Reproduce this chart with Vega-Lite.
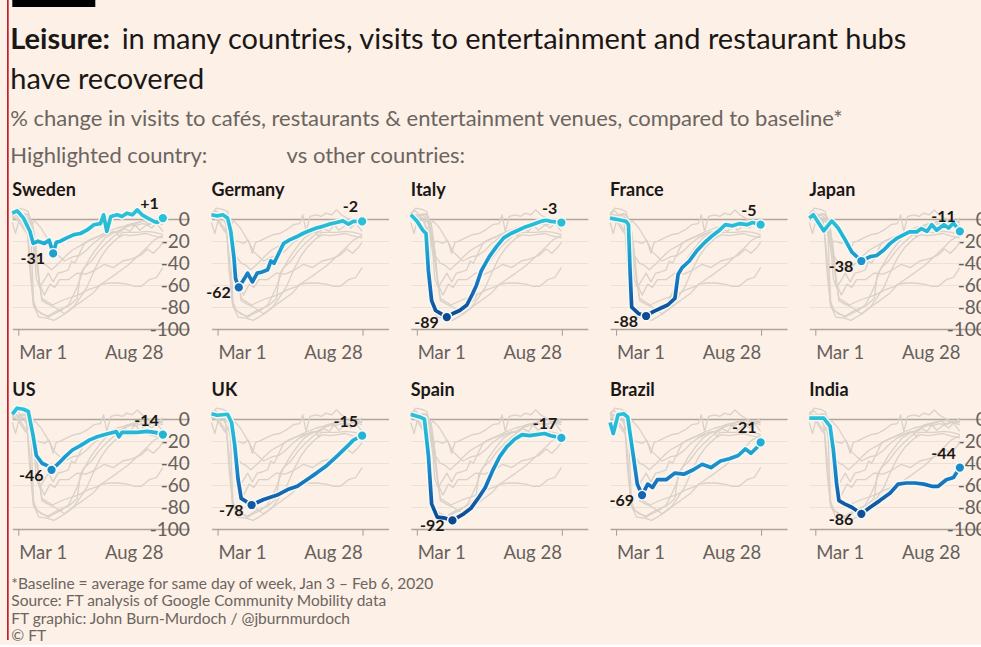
{
"$schema": "https://vega.github.io/schema/vega-lite/v6.json",
"background": "#fdf0e6",
"padding": {"left": 7, "top": 0, "right": 0, "bottom": 0},
"data": {"values": [
{"c":"Sweden","d":"2020-02-22","v":5.5},{"c":"Sweden","d":"2020-02-28","v":7.6},{"c":"Sweden","d":"2020-03-07","v":1},{"c":"Sweden","d":"2020-03-15","v":-11},{"c":"Sweden","d":"2020-03-19","v":-22},{"c":"Sweden","d":"2020-03-25","v":-20},{"c":"Sweden","d":"2020-04-02","v":-22},{"c":"Sweden","d":"2020-04-08","v":-19},{"c":"Sweden","d":"2020-04-13","v":-31},{"c":"Sweden","d":"2020-04-17","v":-21},{"c":"Sweden","d":"2020-04-22","v":-20},{"c":"Sweden","d":"2020-04-30","v":-17},{"c":"Sweden","d":"2020-05-09","v":-14},{"c":"Sweden","d":"2020-05-17","v":-13},{"c":"Sweden","d":"2020-05-25","v":-10},{"c":"Sweden","d":"2020-06-03","v":-5},{"c":"Sweden","d":"2020-06-11","v":-4},{"c":"Sweden","d":"2020-06-15","v":4},{"c":"Sweden","d":"2020-06-19","v":-11},{"c":"Sweden","d":"2020-06-24","v":2.5},{"c":"Sweden","d":"2020-07-02","v":4},{"c":"Sweden","d":"2020-07-08","v":2.5},{"c":"Sweden","d":"2020-07-14","v":5.5},{"c":"Sweden","d":"2020-07-21","v":4},{"c":"Sweden","d":"2020-07-27","v":8.5},{"c":"Sweden","d":"2020-08-02","v":4},{"c":"Sweden","d":"2020-08-09","v":1},{"c":"Sweden","d":"2020-08-17","v":-2},{"c":"Sweden","d":"2020-08-21","v":-3},{"c":"Sweden","d":"2020-08-28","v":1},
{"c":"Germany","d":"2020-02-22","v":4},{"c":"Germany","d":"2020-02-29","v":3},{"c":"Germany","d":"2020-03-07","v":4},{"c":"Germany","d":"2020-03-13","v":1},{"c":"Germany","d":"2020-03-17","v":-11},{"c":"Germany","d":"2020-03-21","v":-35},{"c":"Germany","d":"2020-03-23","v":-54},{"c":"Germany","d":"2020-03-27","v":-62},{"c":"Germany","d":"2020-04-03","v":-54},{"c":"Germany","d":"2020-04-07","v":-49},{"c":"Germany","d":"2020-04-13","v":-57},{"c":"Germany","d":"2020-04-19","v":-49},{"c":"Germany","d":"2020-04-25","v":-48},{"c":"Germany","d":"2020-05-02","v":-46},{"c":"Germany","d":"2020-05-06","v":-38},{"c":"Germany","d":"2020-05-10","v":-40},{"c":"Germany","d":"2020-05-16","v":-31},{"c":"Germany","d":"2020-05-22","v":-22},{"c":"Germany","d":"2020-05-29","v":-19},{"c":"Germany","d":"2020-06-07","v":-16},{"c":"Germany","d":"2020-06-15","v":-13},{"c":"Germany","d":"2020-06-23","v":-10.5},{"c":"Germany","d":"2020-07-02","v":-8},{"c":"Germany","d":"2020-07-10","v":-6.5},{"c":"Germany","d":"2020-07-18","v":-4.5},{"c":"Germany","d":"2020-07-27","v":-3},{"c":"Germany","d":"2020-08-04","v":-1.5},{"c":"Germany","d":"2020-08-11","v":-4.5},{"c":"Germany","d":"2020-08-17","v":-2},{"c":"Germany","d":"2020-08-28","v":-2},
{"c":"Italy","d":"2020-02-22","v":4},{"c":"Italy","d":"2020-03-01","v":-2},{"c":"Italy","d":"2020-03-08","v":-10},{"c":"Italy","d":"2020-03-12","v":-13},{"c":"Italy","d":"2020-03-15","v":-47},{"c":"Italy","d":"2020-03-19","v":-74},{"c":"Italy","d":"2020-03-24","v":-83},{"c":"Italy","d":"2020-03-31","v":-86},{"c":"Italy","d":"2020-04-07","v":-89},{"c":"Italy","d":"2020-04-14","v":-86},{"c":"Italy","d":"2020-04-23","v":-83},{"c":"Italy","d":"2020-05-02","v":-78},{"c":"Italy","d":"2020-05-09","v":-68},{"c":"Italy","d":"2020-05-14","v":-60},{"c":"Italy","d":"2020-05-20","v":-47},{"c":"Italy","d":"2020-05-30","v":-34},{"c":"Italy","d":"2020-06-08","v":-25},{"c":"Italy","d":"2020-06-17","v":-17},{"c":"Italy","d":"2020-06-26","v":-13},{"c":"Italy","d":"2020-07-05","v":-10},{"c":"Italy","d":"2020-07-14","v":-7},{"c":"Italy","d":"2020-07-24","v":-4.5},{"c":"Italy","d":"2020-08-02","v":-2},{"c":"Italy","d":"2020-08-09","v":-1},{"c":"Italy","d":"2020-08-15","v":-2},{"c":"Italy","d":"2020-08-28","v":-3},
{"c":"France","d":"2020-02-22","v":1},{"c":"France","d":"2020-03-07","v":-1},{"c":"France","d":"2020-03-13","v":-2},{"c":"France","d":"2020-03-16","v":-5},{"c":"France","d":"2020-03-18","v":-47},{"c":"France","d":"2020-03-20","v":-80},{"c":"France","d":"2020-03-29","v":-86},{"c":"France","d":"2020-04-07","v":-88},{"c":"France","d":"2020-04-16","v":-84},{"c":"France","d":"2020-04-25","v":-81},{"c":"France","d":"2020-05-04","v":-78},{"c":"France","d":"2020-05-13","v":-72},{"c":"France","d":"2020-05-17","v":-50},{"c":"France","d":"2020-05-22","v":-44},{"c":"France","d":"2020-05-31","v":-38},{"c":"France","d":"2020-06-09","v":-29},{"c":"France","d":"2020-06-18","v":-22},{"c":"France","d":"2020-06-27","v":-16},{"c":"France","d":"2020-07-06","v":-11},{"c":"France","d":"2020-07-15","v":-5},{"c":"France","d":"2020-07-24","v":-6},{"c":"France","d":"2020-08-02","v":-4},{"c":"France","d":"2020-08-11","v":-5},{"c":"France","d":"2020-08-18","v":-3},{"c":"France","d":"2020-08-28","v":-5},
{"c":"Japan","d":"2020-02-22","v":1},{"c":"Japan","d":"2020-02-27","v":4},{"c":"Japan","d":"2020-03-11","v":-10.6},{"c":"Japan","d":"2020-03-21","v":-1.5},{"c":"Japan","d":"2020-03-29","v":-8},{"c":"Japan","d":"2020-04-07","v":-19},{"c":"Japan","d":"2020-04-15","v":-29.7},{"c":"Japan","d":"2020-04-27","v":-38},{"c":"Japan","d":"2020-05-08","v":-34},{"c":"Japan","d":"2020-05-16","v":-33},{"c":"Japan","d":"2020-05-25","v":-28},{"c":"Japan","d":"2020-06-02","v":-22},{"c":"Japan","d":"2020-06-10","v":-17.5},{"c":"Japan","d":"2020-06-18","v":-14.5},{"c":"Japan","d":"2020-06-26","v":-11.5},{"c":"Japan","d":"2020-07-05","v":-11.5},{"c":"Japan","d":"2020-07-11","v":-8.5},{"c":"Japan","d":"2020-07-18","v":-11},{"c":"Japan","d":"2020-07-24","v":-5},{"c":"Japan","d":"2020-07-30","v":-10},{"c":"Japan","d":"2020-08-08","v":-5},{"c":"Japan","d":"2020-08-14","v":-8},{"c":"Japan","d":"2020-08-20","v":-3.5},{"c":"Japan","d":"2020-08-28","v":-11},
{"c":"US","d":"2020-02-22","v":4.5},{"c":"US","d":"2020-02-28","v":10},{"c":"US","d":"2020-03-07","v":9},{"c":"US","d":"2020-03-13","v":7},{"c":"US","d":"2020-03-19","v":-15},{"c":"US","d":"2020-03-23","v":-33},{"c":"US","d":"2020-03-30","v":-40},{"c":"US","d":"2020-04-05","v":-42},{"c":"US","d":"2020-04-11","v":-46},{"c":"US","d":"2020-04-20","v":-40},{"c":"US","d":"2020-04-28","v":-34},{"c":"US","d":"2020-05-07","v":-28},{"c":"US","d":"2020-05-17","v":-24},{"c":"US","d":"2020-05-28","v":-19},{"c":"US","d":"2020-06-07","v":-16},{"c":"US","d":"2020-06-19","v":-13.4},{"c":"US","d":"2020-07-01","v":-11.3},{"c":"US","d":"2020-07-04","v":-16},{"c":"US","d":"2020-07-08","v":-12},{"c":"US","d":"2020-07-27","v":-12},{"c":"US","d":"2020-08-08","v":-11},{"c":"US","d":"2020-08-18","v":-12},{"c":"US","d":"2020-08-28","v":-14},
{"c":"UK","d":"2020-02-22","v":5},{"c":"UK","d":"2020-02-29","v":3.6},{"c":"UK","d":"2020-03-13","v":4.5},{"c":"UK","d":"2020-03-18","v":-3},{"c":"UK","d":"2020-03-22","v":-24},{"c":"UK","d":"2020-03-26","v":-54},{"c":"UK","d":"2020-03-30","v":-72},{"c":"UK","d":"2020-04-12","v":-78},{"c":"UK","d":"2020-04-27","v":-73},{"c":"UK","d":"2020-05-14","v":-69},{"c":"UK","d":"2020-05-27","v":-64},{"c":"UK","d":"2020-06-08","v":-61},{"c":"UK","d":"2020-06-20","v":-55},{"c":"UK","d":"2020-07-02","v":-49},{"c":"UK","d":"2020-07-15","v":-42},{"c":"UK","d":"2020-07-27","v":-34},{"c":"UK","d":"2020-08-09","v":-25},{"c":"UK","d":"2020-08-17","v":-19},{"c":"UK","d":"2020-08-28","v":-15},
{"c":"Spain","d":"2020-02-22","v":4.4},{"c":"Spain","d":"2020-03-06","v":1.5},{"c":"Spain","d":"2020-03-10","v":0},{"c":"Spain","d":"2020-03-15","v":-33},{"c":"Spain","d":"2020-03-19","v":-77},{"c":"Spain","d":"2020-03-26","v":-89},{"c":"Spain","d":"2020-04-05","v":-90},{"c":"Spain","d":"2020-04-14","v":-92},{"c":"Spain","d":"2020-04-28","v":-86},{"c":"Spain","d":"2020-05-07","v":-81},{"c":"Spain","d":"2020-05-16","v":-72},{"c":"Spain","d":"2020-05-25","v":-62},{"c":"Spain","d":"2020-06-03","v":-47},{"c":"Spain","d":"2020-06-12","v":-34},{"c":"Spain","d":"2020-06-21","v":-25},{"c":"Spain","d":"2020-07-01","v":-18},{"c":"Spain","d":"2020-07-10","v":-14},{"c":"Spain","d":"2020-07-19","v":-15},{"c":"Spain","d":"2020-07-28","v":-14},{"c":"Spain","d":"2020-08-07","v":-13},{"c":"Spain","d":"2020-08-15","v":-15},{"c":"Spain","d":"2020-08-28","v":-17},
{"c":"Brazil","d":"2020-02-22","v":-3},{"c":"Brazil","d":"2020-02-26","v":-13},{"c":"Brazil","d":"2020-03-03","v":4},{"c":"Brazil","d":"2020-03-10","v":5},{"c":"Brazil","d":"2020-03-15","v":2},{"c":"Brazil","d":"2020-03-22","v":-33},{"c":"Brazil","d":"2020-03-27","v":-59},{"c":"Brazil","d":"2020-04-02","v":-69},{"c":"Brazil","d":"2020-04-09","v":-59},{"c":"Brazil","d":"2020-04-15","v":-62},{"c":"Brazil","d":"2020-04-21","v":-55},{"c":"Brazil","d":"2020-05-02","v":-55},{"c":"Brazil","d":"2020-05-13","v":-49},{"c":"Brazil","d":"2020-05-24","v":-50},{"c":"Brazil","d":"2020-06-05","v":-46},{"c":"Brazil","d":"2020-06-16","v":-41},{"c":"Brazil","d":"2020-06-27","v":-44},{"c":"Brazil","d":"2020-07-09","v":-38},{"c":"Brazil","d":"2020-07-20","v":-36},{"c":"Brazil","d":"2020-07-31","v":-33},{"c":"Brazil","d":"2020-08-09","v":-27},{"c":"Brazil","d":"2020-08-16","v":-31},{"c":"Brazil","d":"2020-08-23","v":-26},{"c":"Brazil","d":"2020-08-28","v":-21},
{"c":"India","d":"2020-02-22","v":1},{"c":"India","d":"2020-03-11","v":1},{"c":"India","d":"2020-03-19","v":-6.6},{"c":"India","d":"2020-03-23","v":-27.7},{"c":"India","d":"2020-03-27","v":-58},{"c":"India","d":"2020-03-30","v":-74},{"c":"India","d":"2020-04-06","v":-77},{"c":"India","d":"2020-04-15","v":-80},{"c":"India","d":"2020-04-27","v":-86},{"c":"India","d":"2020-05-08","v":-80},{"c":"India","d":"2020-05-20","v":-74},{"c":"India","d":"2020-06-02","v":-67},{"c":"India","d":"2020-06-12","v":-59},{"c":"India","d":"2020-06-22","v":-58},{"c":"India","d":"2020-07-03","v":-58},{"c":"India","d":"2020-07-14","v":-59},{"c":"India","d":"2020-07-24","v":-61},{"c":"India","d":"2020-08-01","v":-61},{"c":"India","d":"2020-08-11","v":-55},{"c":"India","d":"2020-08-20","v":-53},{"c":"India","d":"2020-08-28","v":-44}
]},
"spacing": -0.7,
"hconcat": [
{"width": 1.7, "height": 640, "data": {"values": []}, "mark": "point", "view": {"fill": "#c41e2a", "stroke": null}},
{"spacing": 19,
 "vconcat": [
 {"width": 83, "height": 7, "data": {"values": []}, "mark": "point", "view": {"fill": "#000000", "stroke": null}},
 {
 "title": {"text": "Leisure:", "subtitle": ["\u200b\u00a0\u00a0\u00a0\u00a0\u00a0\u00a0\u00a0\u00a0\u00a0\u00a0\u00a0\u00a0\u00a0\u00a0\u00a0in many countries, visits to entertainment and restaurant hubs", "have recovered"], "anchor": "start", "frame": "group", "font": "Lato", "fontSize": 29, "fontWeight": "bold", "color": "#1a1817", "subtitleFont": "Lato", "subtitleFontSize": 29, "subtitleFontWeight": "normal", "subtitleColor": "#1a1817", "subtitleLineHeight": 40, "subtitlePadding": -29, "offset": 13, "dx": -2},
 "vconcat": [
 {
 "title": {"text": ["% change in visits to cafés, restaurants & entertainment venues, compared to baseline*", "Highlighted country:\u2003\u2003\u2003\u2002\u2002\u2009 vs other countries:"], "anchor": "start", "frame": "group", "font": "Lato", "fontSize": 22, "fontWeight": "normal", "color": "#6b6561", "lineHeight": 37, "offset": 14, "dx": -2},
 "spacing": 20,
 "vconcat": [
 {"hconcat": [
 {"title": "Sweden", "width": 177, "height": 134.2,
  "encoding": {"x": {"field":"d","type":"temporal","title":null,"scale":{"type":"utc","domain":[{"year":2020,"month":2,"date":22,"utc":true},{"year":2020,"month":9,"date":30,"utc":true}]},"axis":{"values":[{"year":2020,"month":3,"date":1,"utc":true},{"year":2020,"month":8,"date":28,"utc":true}],"format":"%b %-d"}},
   "y": {"field":"v","type":"quantitative","title":null,"scale":{"domain":[-100,22],"nice":false,"zero":false},"axis":{"values":[0,-20,-40,-60,-80,-100],"orient":"right","labels":true,"gridColor":{"condition":{"test":"datum.value == 0 || datum.value == -100","value":"#aea59d"},"value":"#ebe1d7"},"gridWidth":{"condition":{"test":"datum.value == 0 || datum.value == -100","value":1.6},"value":1}}}},
  "layer": [
   {"mark": {"type":"line","stroke":"#dad1c9","strokeWidth":1.3}, "encoding": {"detail": {"field":"c"}}},
   {"transform": [{"filter":"datum.c == 'Sweden'"}], "layer": [
    {"mark": {"type":"line","stroke":"#f3fafa","strokeWidth":6.5}},
    {"mark": {"type":"line","strokeWidth":3.7,"stroke":{"gradient":"linear","x1":0,"y1":0,"x2":0,"y2":1,"stops":[{"offset":0,"color":"#2cc0d6"},{"offset":0.215,"color":"#2cc0d6"},{"offset":0.722,"color":"#22aed2"},{"offset":1,"color":"#1f9fce"}]}}},
    {"transform": [{"window":[{"op":"row_number","as":"r"}],"sort":[{"field":"v","order":"ascending"}]},{"filter":"datum.r == 1"}], "layer": [
     {"mark": {"type":"circle","size":95,"opacity":1,"color":"#1f9fce","stroke":"#f3fafa","strokeWidth":1.5}},
     {"mark": {"type":"text","align":"right","baseline":"middle","dx":-8,"dy":6}, "encoding": {"text": {"field":"v","format":"d"}}}]},
    {"transform": [{"window":[{"op":"row_number","as":"r"}],"sort":[{"field":"d","order":"descending"}]},{"filter":"datum.r == 1"}], "layer": [
     {"mark": {"type":"circle","size":95,"opacity":1,"color":"#2cc0d6","stroke":"#f3fafa","strokeWidth":1.5}},
     {"mark": {"type":"text","align":"right","baseline":"alphabetic","dx":-4,"dy":-9}, "encoding": {"text": {"field":"v","format":"+d"}}}]}
   ]}
  ]},
 {"title": "Germany", "width": 177, "height": 134.2,
  "encoding": {"x": {"field":"d","type":"temporal","title":null,"scale":{"type":"utc","domain":[{"year":2020,"month":2,"date":22,"utc":true},{"year":2020,"month":9,"date":30,"utc":true}]},"axis":{"values":[{"year":2020,"month":3,"date":1,"utc":true},{"year":2020,"month":8,"date":28,"utc":true}],"format":"%b %-d"}},
   "y": {"field":"v","type":"quantitative","title":null,"scale":{"domain":[-100,22],"nice":false,"zero":false},"axis":{"values":[0,-20,-40,-60,-80,-100],"orient":"right","labels":false,"gridColor":{"condition":{"test":"datum.value == 0 || datum.value == -100","value":"#aea59d"},"value":"#ebe1d7"},"gridWidth":{"condition":{"test":"datum.value == 0 || datum.value == -100","value":1.6},"value":1}}}},
  "layer": [
   {"mark": {"type":"line","stroke":"#dad1c9","strokeWidth":1.3}, "encoding": {"detail": {"field":"c"}}},
   {"transform": [{"filter":"datum.c == 'Germany'"}], "layer": [
    {"mark": {"type":"line","stroke":"#f3fafa","strokeWidth":6.5}},
    {"mark": {"type":"line","strokeWidth":3.7,"stroke":{"gradient":"linear","x1":0,"y1":0,"x2":0,"y2":1,"stops":[{"offset":0,"color":"#2cc0d6"},{"offset":0.061,"color":"#2cc0d6"},{"offset":0.364,"color":"#22aed2"},{"offset":0.667,"color":"#1c92cb"},{"offset":0.97,"color":"#1870b8"},{"offset":1,"color":"#176db6"}]}}},
    {"transform": [{"window":[{"op":"row_number","as":"r"}],"sort":[{"field":"v","order":"ascending"}]},{"filter":"datum.r == 1"}], "layer": [
     {"mark": {"type":"circle","size":95,"opacity":1,"color":"#176db6","stroke":"#f3fafa","strokeWidth":1.5}},
     {"mark": {"type":"text","align":"right","baseline":"middle","dx":-8,"dy":6}, "encoding": {"text": {"field":"v","format":"d"}}}]},
    {"transform": [{"window":[{"op":"row_number","as":"r"}],"sort":[{"field":"d","order":"descending"}]},{"filter":"datum.r == 1"}], "layer": [
     {"mark": {"type":"circle","size":95,"opacity":1,"color":"#2bbed6","stroke":"#f3fafa","strokeWidth":1.5}},
     {"mark": {"type":"text","align":"right","baseline":"alphabetic","dx":-4,"dy":-9}, "encoding": {"text": {"field":"v","format":"+d"}}}]}
   ]}
  ]},
 {"title": "Italy", "width": 177, "height": 134.2,
  "encoding": {"x": {"field":"d","type":"temporal","title":null,"scale":{"type":"utc","domain":[{"year":2020,"month":2,"date":22,"utc":true},{"year":2020,"month":9,"date":30,"utc":true}]},"axis":{"values":[{"year":2020,"month":3,"date":1,"utc":true},{"year":2020,"month":8,"date":28,"utc":true}],"format":"%b %-d"}},
   "y": {"field":"v","type":"quantitative","title":null,"scale":{"domain":[-100,22],"nice":false,"zero":false},"axis":{"values":[0,-20,-40,-60,-80,-100],"orient":"right","labels":false,"gridColor":{"condition":{"test":"datum.value == 0 || datum.value == -100","value":"#aea59d"},"value":"#ebe1d7"},"gridWidth":{"condition":{"test":"datum.value == 0 || datum.value == -100","value":1.6},"value":1}}}},
  "layer": [
   {"mark": {"type":"line","stroke":"#dad1c9","strokeWidth":1.3}, "encoding": {"detail": {"field":"c"}}},
   {"transform": [{"filter":"datum.c == 'Italy'"}], "layer": [
    {"mark": {"type":"line","stroke":"#f3fafa","strokeWidth":6.5}},
    {"mark": {"type":"line","strokeWidth":3.7,"stroke":{"gradient":"linear","x1":0,"y1":0,"x2":0,"y2":1,"stops":[{"offset":0,"color":"#2cc0d6"},{"offset":0.043,"color":"#2cc0d6"},{"offset":0.258,"color":"#22aed2"},{"offset":0.473,"color":"#1c92cb"},{"offset":0.688,"color":"#1870b8"},{"offset":0.903,"color":"#12559f"},{"offset":1,"color":"#0e4b94"}]}}},
    {"transform": [{"window":[{"op":"row_number","as":"r"}],"sort":[{"field":"v","order":"ascending"}]},{"filter":"datum.r == 1"}], "layer": [
     {"mark": {"type":"circle","size":95,"opacity":1,"color":"#0e4b94","stroke":"#f3fafa","strokeWidth":1.5}},
     {"mark": {"type":"text","align":"right","baseline":"middle","dx":-8,"dy":6}, "encoding": {"text": {"field":"v","format":"d"}}}]},
    {"transform": [{"window":[{"op":"row_number","as":"r"}],"sort":[{"field":"d","order":"descending"}]},{"filter":"datum.r == 1"}], "layer": [
     {"mark": {"type":"circle","size":95,"opacity":1,"color":"#2abdd5","stroke":"#f3fafa","strokeWidth":1.5}},
     {"mark": {"type":"text","align":"right","baseline":"alphabetic","dx":-4,"dy":-9}, "encoding": {"text": {"field":"v","format":"+d"}}}]}
   ]}
  ]},
 {"title": "France", "width": 177, "height": 134.2,
  "encoding": {"x": {"field":"d","type":"temporal","title":null,"scale":{"type":"utc","domain":[{"year":2020,"month":2,"date":22,"utc":true},{"year":2020,"month":9,"date":30,"utc":true}]},"axis":{"values":[{"year":2020,"month":3,"date":1,"utc":true},{"year":2020,"month":8,"date":28,"utc":true}],"format":"%b %-d"}},
   "y": {"field":"v","type":"quantitative","title":null,"scale":{"domain":[-100,22],"nice":false,"zero":false},"axis":{"values":[0,-20,-40,-60,-80,-100],"orient":"right","labels":false,"gridColor":{"condition":{"test":"datum.value == 0 || datum.value == -100","value":"#aea59d"},"value":"#ebe1d7"},"gridWidth":{"condition":{"test":"datum.value == 0 || datum.value == -100","value":1.6},"value":1}}}},
  "layer": [
   {"mark": {"type":"line","stroke":"#dad1c9","strokeWidth":1.3}, "encoding": {"detail": {"field":"c"}}},
   {"transform": [{"filter":"datum.c == 'France'"}], "layer": [
    {"mark": {"type":"line","stroke":"#f3fafa","strokeWidth":6.5}},
    {"mark": {"type":"line","strokeWidth":3.7,"stroke":{"gradient":"linear","x1":0,"y1":0,"x2":0,"y2":1,"stops":[{"offset":0,"color":"#2cc0d6"},{"offset":0.011,"color":"#2cc0d6"},{"offset":0.236,"color":"#22aed2"},{"offset":0.461,"color":"#1c92cb"},{"offset":0.685,"color":"#1870b8"},{"offset":0.91,"color":"#12559f"},{"offset":1,"color":"#0f4c95"}]}}},
    {"transform": [{"window":[{"op":"row_number","as":"r"}],"sort":[{"field":"v","order":"ascending"}]},{"filter":"datum.r == 1"}], "layer": [
     {"mark": {"type":"circle","size":95,"opacity":1,"color":"#0f4c95","stroke":"#f3fafa","strokeWidth":1.5}},
     {"mark": {"type":"text","align":"right","baseline":"middle","dx":-8,"dy":6}, "encoding": {"text": {"field":"v","format":"d"}}}]},
    {"transform": [{"window":[{"op":"row_number","as":"r"}],"sort":[{"field":"d","order":"descending"}]},{"filter":"datum.r == 1"}], "layer": [
     {"mark": {"type":"circle","size":95,"opacity":1,"color":"#2abbd5","stroke":"#f3fafa","strokeWidth":1.5}},
     {"mark": {"type":"text","align":"right","baseline":"alphabetic","dx":-4,"dy":-9}, "encoding": {"text": {"field":"v","format":"+d"}}}]}
   ]}
  ]},
 {"title": "Japan", "width": 177, "height": 134.2,
  "encoding": {"x": {"field":"d","type":"temporal","title":null,"scale":{"type":"utc","domain":[{"year":2020,"month":2,"date":22,"utc":true},{"year":2020,"month":9,"date":30,"utc":true}]},"axis":{"values":[{"year":2020,"month":3,"date":1,"utc":true},{"year":2020,"month":8,"date":28,"utc":true}],"format":"%b %-d"}},
   "y": {"field":"v","type":"quantitative","title":null,"scale":{"domain":[-100,22],"nice":false,"zero":false},"axis":{"values":[0,-20,-40,-60,-80,-100],"orient":"right","labels":true,"gridColor":{"condition":{"test":"datum.value == 0 || datum.value == -100","value":"#aea59d"},"value":"#ebe1d7"},"gridWidth":{"condition":{"test":"datum.value == 0 || datum.value == -100","value":1.6},"value":1}}}},
  "layer": [
   {"mark": {"type":"line","stroke":"#dad1c9","strokeWidth":1.3}, "encoding": {"detail": {"field":"c"}}},
   {"transform": [{"filter":"datum.c == 'Japan'"}], "layer": [
    {"mark": {"type":"line","stroke":"#f3fafa","strokeWidth":6.5}},
    {"mark": {"type":"line","strokeWidth":3.7,"stroke":{"gradient":"linear","x1":0,"y1":0,"x2":0,"y2":1,"stops":[{"offset":0,"color":"#2cc0d6"},{"offset":0.095,"color":"#2cc0d6"},{"offset":0.571,"color":"#22aed2"},{"offset":1,"color":"#1d95cc"}]}}},
    {"transform": [{"window":[{"op":"row_number","as":"r"}],"sort":[{"field":"v","order":"ascending"}]},{"filter":"datum.r == 1"}], "layer": [
     {"mark": {"type":"circle","size":95,"opacity":1,"color":"#1d95cc","stroke":"#f3fafa","strokeWidth":1.5}},
     {"mark": {"type":"text","align":"right","baseline":"middle","dx":-8,"dy":6}, "encoding": {"text": {"field":"v","format":"d"}}}]},
    {"transform": [{"window":[{"op":"row_number","as":"r"}],"sort":[{"field":"d","order":"descending"}]},{"filter":"datum.r == 1"}], "layer": [
     {"mark": {"type":"circle","size":95,"opacity":1,"color":"#27b6d4","stroke":"#f3fafa","strokeWidth":1.5}},
     {"mark": {"type":"text","align":"right","baseline":"alphabetic","dx":-4,"dy":-9}, "encoding": {"text": {"field":"v","format":"+d"}}}]}
   ]}
  ]}
 ], "spacing": 22.25, "bounds": "flush"},
 {"hconcat": [
 {"title": "US", "width": 177, "height": 134.2,
  "encoding": {"x": {"field":"d","type":"temporal","title":null,"scale":{"type":"utc","domain":[{"year":2020,"month":2,"date":22,"utc":true},{"year":2020,"month":9,"date":30,"utc":true}]},"axis":{"values":[{"year":2020,"month":3,"date":1,"utc":true},{"year":2020,"month":8,"date":28,"utc":true}],"format":"%b %-d"}},
   "y": {"field":"v","type":"quantitative","title":null,"scale":{"domain":[-100,22],"nice":false,"zero":false},"axis":{"values":[0,-20,-40,-60,-80,-100],"orient":"right","labels":true,"gridColor":{"condition":{"test":"datum.value == 0 || datum.value == -100","value":"#aea59d"},"value":"#ebe1d7"},"gridWidth":{"condition":{"test":"datum.value == 0 || datum.value == -100","value":1.6},"value":1}}}},
  "layer": [
   {"mark": {"type":"line","stroke":"#dad1c9","strokeWidth":1.3}, "encoding": {"detail": {"field":"c"}}},
   {"transform": [{"filter":"datum.c == 'US'"}], "layer": [
    {"mark": {"type":"line","stroke":"#f3fafa","strokeWidth":6.5}},
    {"mark": {"type":"line","strokeWidth":3.7,"stroke":{"gradient":"linear","x1":0,"y1":0,"x2":0,"y2":1,"stops":[{"offset":0,"color":"#2cc0d6"},{"offset":0.179,"color":"#2cc0d6"},{"offset":0.536,"color":"#22aed2"},{"offset":0.893,"color":"#1c92cb"},{"offset":1,"color":"#1b88c5"}]}}},
    {"transform": [{"window":[{"op":"row_number","as":"r"}],"sort":[{"field":"v","order":"ascending"}]},{"filter":"datum.r == 1"}], "layer": [
     {"mark": {"type":"circle","size":95,"opacity":1,"color":"#1b88c5","stroke":"#f3fafa","strokeWidth":1.5}},
     {"mark": {"type":"text","align":"right","baseline":"middle","dx":-8,"dy":6}, "encoding": {"text": {"field":"v","format":"d"}}}]},
    {"transform": [{"window":[{"op":"row_number","as":"r"}],"sort":[{"field":"d","order":"descending"}]},{"filter":"datum.r == 1"}], "layer": [
     {"mark": {"type":"circle","size":95,"opacity":1,"color":"#25b3d3","stroke":"#f3fafa","strokeWidth":1.5}},
     {"mark": {"type":"text","align":"right","baseline":"alphabetic","dx":-4,"dy":-9}, "encoding": {"text": {"field":"v","format":"+d"}}}]}
   ]}
  ]},
 {"title": "UK", "width": 177, "height": 134.2,
  "encoding": {"x": {"field":"d","type":"temporal","title":null,"scale":{"type":"utc","domain":[{"year":2020,"month":2,"date":22,"utc":true},{"year":2020,"month":9,"date":30,"utc":true}]},"axis":{"values":[{"year":2020,"month":3,"date":1,"utc":true},{"year":2020,"month":8,"date":28,"utc":true}],"format":"%b %-d"}},
   "y": {"field":"v","type":"quantitative","title":null,"scale":{"domain":[-100,22],"nice":false,"zero":false},"axis":{"values":[0,-20,-40,-60,-80,-100],"orient":"right","labels":false,"gridColor":{"condition":{"test":"datum.value == 0 || datum.value == -100","value":"#aea59d"},"value":"#ebe1d7"},"gridWidth":{"condition":{"test":"datum.value == 0 || datum.value == -100","value":1.6},"value":1}}}},
  "layer": [
   {"mark": {"type":"line","stroke":"#dad1c9","strokeWidth":1.3}, "encoding": {"detail": {"field":"c"}}},
   {"transform": [{"filter":"datum.c == 'UK'"}], "layer": [
    {"mark": {"type":"line","stroke":"#f3fafa","strokeWidth":6.5}},
    {"mark": {"type":"line","strokeWidth":3.7,"stroke":{"gradient":"linear","x1":0,"y1":0,"x2":0,"y2":1,"stops":[{"offset":0,"color":"#2cc0d6"},{"offset":0.06,"color":"#2cc0d6"},{"offset":0.301,"color":"#22aed2"},{"offset":0.542,"color":"#1c92cb"},{"offset":0.783,"color":"#1870b8"},{"offset":1,"color":"#1358a2"}]}}},
    {"transform": [{"window":[{"op":"row_number","as":"r"}],"sort":[{"field":"v","order":"ascending"}]},{"filter":"datum.r == 1"}], "layer": [
     {"mark": {"type":"circle","size":95,"opacity":1,"color":"#1358a2","stroke":"#f3fafa","strokeWidth":1.5}},
     {"mark": {"type":"text","align":"right","baseline":"middle","dx":-8,"dy":6}, "encoding": {"text": {"field":"v","format":"d"}}}]},
    {"transform": [{"window":[{"op":"row_number","as":"r"}],"sort":[{"field":"d","order":"descending"}]},{"filter":"datum.r == 1"}], "layer": [
     {"mark": {"type":"circle","size":95,"opacity":1,"color":"#25b3d3","stroke":"#f3fafa","strokeWidth":1.5}},
     {"mark": {"type":"text","align":"right","baseline":"alphabetic","dx":-4,"dy":-9}, "encoding": {"text": {"field":"v","format":"+d"}}}]}
   ]}
  ]},
 {"title": "Spain", "width": 177, "height": 134.2,
  "encoding": {"x": {"field":"d","type":"temporal","title":null,"scale":{"type":"utc","domain":[{"year":2020,"month":2,"date":22,"utc":true},{"year":2020,"month":9,"date":30,"utc":true}]},"axis":{"values":[{"year":2020,"month":3,"date":1,"utc":true},{"year":2020,"month":8,"date":28,"utc":true}],"format":"%b %-d"}},
   "y": {"field":"v","type":"quantitative","title":null,"scale":{"domain":[-100,22],"nice":false,"zero":false},"axis":{"values":[0,-20,-40,-60,-80,-100],"orient":"right","labels":false,"gridColor":{"condition":{"test":"datum.value == 0 || datum.value == -100","value":"#aea59d"},"value":"#ebe1d7"},"gridWidth":{"condition":{"test":"datum.value == 0 || datum.value == -100","value":1.6},"value":1}}}},
  "layer": [
   {"mark": {"type":"line","stroke":"#dad1c9","strokeWidth":1.3}, "encoding": {"detail": {"field":"c"}}},
   {"transform": [{"filter":"datum.c == 'Spain'"}], "layer": [
    {"mark": {"type":"line","stroke":"#f3fafa","strokeWidth":6.5}},
    {"mark": {"type":"line","strokeWidth":3.7,"stroke":{"gradient":"linear","x1":0,"y1":0,"x2":0,"y2":1,"stops":[{"offset":0,"color":"#2cc0d6"},{"offset":0.046,"color":"#2cc0d6"},{"offset":0.253,"color":"#22aed2"},{"offset":0.461,"color":"#1c92cb"},{"offset":0.668,"color":"#1870b8"},{"offset":0.876,"color":"#12559f"},{"offset":1,"color":"#0d4790"}]}}},
    {"transform": [{"window":[{"op":"row_number","as":"r"}],"sort":[{"field":"v","order":"ascending"}]},{"filter":"datum.r == 1"}], "layer": [
     {"mark": {"type":"circle","size":95,"opacity":1,"color":"#0d4790","stroke":"#f3fafa","strokeWidth":1.5}},
     {"mark": {"type":"text","align":"right","baseline":"middle","dx":-8,"dy":6}, "encoding": {"text": {"field":"v","format":"d"}}}]},
    {"transform": [{"window":[{"op":"row_number","as":"r"}],"sort":[{"field":"d","order":"descending"}]},{"filter":"datum.r == 1"}], "layer": [
     {"mark": {"type":"circle","size":95,"opacity":1,"color":"#24b1d3","stroke":"#f3fafa","strokeWidth":1.5}},
     {"mark": {"type":"text","align":"right","baseline":"alphabetic","dx":-4,"dy":-9}, "encoding": {"text": {"field":"v","format":"+d"}}}]}
   ]}
  ]},
 {"title": "Brazil", "width": 177, "height": 134.2,
  "encoding": {"x": {"field":"d","type":"temporal","title":null,"scale":{"type":"utc","domain":[{"year":2020,"month":2,"date":22,"utc":true},{"year":2020,"month":9,"date":30,"utc":true}]},"axis":{"values":[{"year":2020,"month":3,"date":1,"utc":true},{"year":2020,"month":8,"date":28,"utc":true}],"format":"%b %-d"}},
   "y": {"field":"v","type":"quantitative","title":null,"scale":{"domain":[-100,22],"nice":false,"zero":false},"axis":{"values":[0,-20,-40,-60,-80,-100],"orient":"right","labels":false,"gridColor":{"condition":{"test":"datum.value == 0 || datum.value == -100","value":"#aea59d"},"value":"#ebe1d7"},"gridWidth":{"condition":{"test":"datum.value == 0 || datum.value == -100","value":1.6},"value":1}}}},
  "layer": [
   {"mark": {"type":"line","stroke":"#dad1c9","strokeWidth":1.3}, "encoding": {"detail": {"field":"c"}}},
   {"transform": [{"filter":"datum.c == 'Brazil'"}], "layer": [
    {"mark": {"type":"line","stroke":"#f3fafa","strokeWidth":6.5}},
    {"mark": {"type":"line","strokeWidth":3.7,"stroke":{"gradient":"linear","x1":0,"y1":0,"x2":0,"y2":1,"stops":[{"offset":0,"color":"#2cc0d6"},{"offset":0.068,"color":"#2cc0d6"},{"offset":0.338,"color":"#22aed2"},{"offset":0.608,"color":"#1c92cb"},{"offset":0.878,"color":"#1870b8"},{"offset":1,"color":"#1564ad"}]}}},
    {"transform": [{"window":[{"op":"row_number","as":"r"}],"sort":[{"field":"v","order":"ascending"}]},{"filter":"datum.r == 1"}], "layer": [
     {"mark": {"type":"circle","size":95,"opacity":1,"color":"#1564ad","stroke":"#f3fafa","strokeWidth":1.5}},
     {"mark": {"type":"text","align":"right","baseline":"middle","dx":-8,"dy":6}, "encoding": {"text": {"field":"v","format":"d"}}}]},
    {"transform": [{"window":[{"op":"row_number","as":"r"}],"sort":[{"field":"d","order":"descending"}]},{"filter":"datum.r == 1"}], "layer": [
     {"mark": {"type":"circle","size":95,"opacity":1,"color":"#22acd2","stroke":"#f3fafa","strokeWidth":1.5}},
     {"mark": {"type":"text","align":"right","baseline":"alphabetic","dx":-4,"dy":-9}, "encoding": {"text": {"field":"v","format":"+d"}}}]}
   ]}
  ]},
 {"title": "India", "width": 177, "height": 134.2,
  "encoding": {"x": {"field":"d","type":"temporal","title":null,"scale":{"type":"utc","domain":[{"year":2020,"month":2,"date":22,"utc":true},{"year":2020,"month":9,"date":30,"utc":true}]},"axis":{"values":[{"year":2020,"month":3,"date":1,"utc":true},{"year":2020,"month":8,"date":28,"utc":true}],"format":"%b %-d"}},
   "y": {"field":"v","type":"quantitative","title":null,"scale":{"domain":[-100,22],"nice":false,"zero":false},"axis":{"values":[0,-20,-40,-60,-80,-100],"orient":"right","labels":true,"gridColor":{"condition":{"test":"datum.value == 0 || datum.value == -100","value":"#aea59d"},"value":"#ebe1d7"},"gridWidth":{"condition":{"test":"datum.value == 0 || datum.value == -100","value":1.6},"value":1}}}},
  "layer": [
   {"mark": {"type":"line","stroke":"#dad1c9","strokeWidth":1.3}, "encoding": {"detail": {"field":"c"}}},
   {"transform": [{"filter":"datum.c == 'India'"}], "layer": [
    {"mark": {"type":"line","stroke":"#f3fafa","strokeWidth":6.5}},
    {"mark": {"type":"line","strokeWidth":3.7,"stroke":{"gradient":"linear","x1":0,"y1":0,"x2":0,"y2":1,"stops":[{"offset":0,"color":"#2cc0d6"},{"offset":0.011,"color":"#2cc0d6"},{"offset":0.241,"color":"#22aed2"},{"offset":0.471,"color":"#1c92cb"},{"offset":0.701,"color":"#1870b8"},{"offset":0.931,"color":"#12559f"},{"offset":1,"color":"#104e97"}]}}},
    {"transform": [{"window":[{"op":"row_number","as":"r"}],"sort":[{"field":"v","order":"ascending"}]},{"filter":"datum.r == 1"}], "layer": [
     {"mark": {"type":"circle","size":95,"opacity":1,"color":"#104e97","stroke":"#f3fafa","strokeWidth":1.5}},
     {"mark": {"type":"text","align":"right","baseline":"middle","dx":-8,"dy":6}, "encoding": {"text": {"field":"v","format":"d"}}}]},
    {"transform": [{"window":[{"op":"row_number","as":"r"}],"sort":[{"field":"d","order":"descending"}]},{"filter":"datum.r == 1"}], "layer": [
     {"mark": {"type":"circle","size":95,"opacity":1,"color":"#1b8bc7","stroke":"#f3fafa","strokeWidth":1.5}},
     {"mark": {"type":"text","align":"right","baseline":"alphabetic","dx":-4,"dy":-9}, "encoding": {"text": {"field":"v","format":"+d"}}}]}
   ]}
  ]}
 ], "spacing": 22.25, "bounds": "flush",
  "title": {"text": ["*Baseline = average for same day of week, Jan 3 \u2013 Feb 6, 2020", "Source: FT analysis of Google Community Mobility data", "FT graphic: John Burn-Murdoch / @jburnmurdoch", "\u00a9 FT"], "orient": "bottom", "anchor": "start", "frame": "group", "font": "Lato", "fontSize": 15.5, "fontWeight": "normal", "color": "#6b6561", "lineHeight": 17.5, "offset": 15, "dx": -1}}
 ]
 }
 ]
 }
 ]
}
],
"config": {
 "view": {"stroke": null},
 "font": "Lato",
 "locale": {"number": {"decimal": ".", "thousands": ",", "grouping": [3], "currency": ["$", ""], "minus": "-"}},
 "axisX": {"grid": false, "domain": false, "ticks": true, "tickSize": 6, "tickColor": "#a39b94", "tickWidth": 1, "labelPadding": 8, "labelFlush": 30, "labelFont": "Lato", "labelFontSize": 18.5, "labelColor": "#66605c"},
 "axisY": {"domain": false, "ticks": false, "tickSize": 0, "labelPadding": 0, "labelAlign": "right", "labelFont": "Lato", "labelFontSize": 19, "labelColor": "#66605c", "grid": true},
 "title": {"anchor": "start", "frame": "group", "font": "Lato", "fontSize": 18, "fontWeight": "bold", "color": "#1a1817", "offset": -5},
 "text": {"font": "Lato", "fontSize": 16, "fontWeight": "bold", "color": "#1a1817"},
 "line": {"strokeJoin": "round", "strokeCap": "butt"}
}
}
